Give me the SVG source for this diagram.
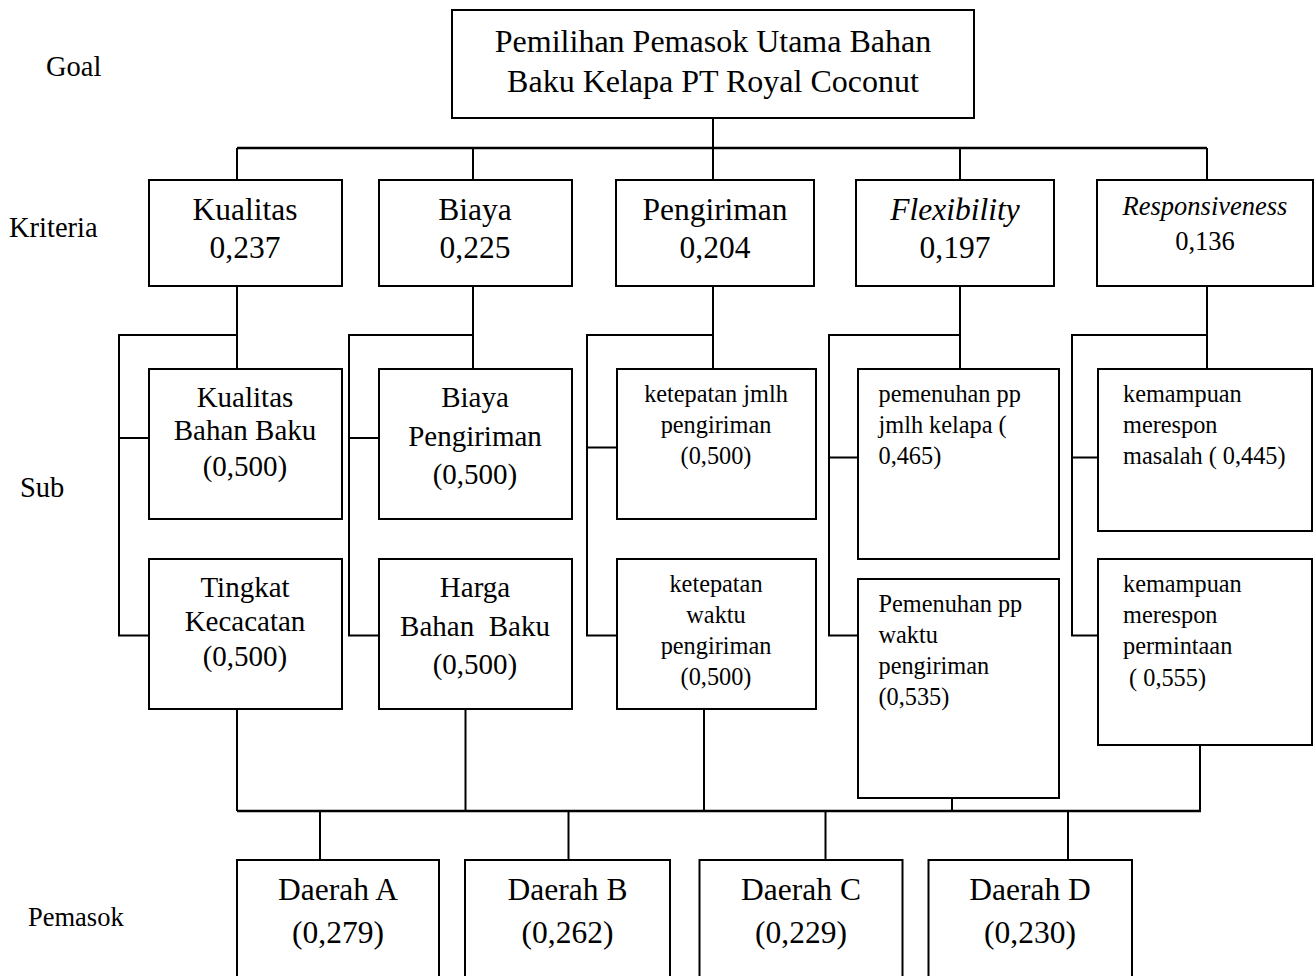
<svg xmlns="http://www.w3.org/2000/svg" width="1316" height="976" viewBox="0 0 1316 976">
<style>
text{font-family:"Liberation Serif","Times New Roman",serif;fill:#000}
.box{fill:#fff;stroke:#000;stroke-width:2}
.ln{fill:none;stroke:#000;stroke-width:2}
.bus{fill:none;stroke:#000;stroke-width:2.6}
.lbl{font-size:28.5px}
.g{font-size:32px;text-anchor:middle}
.k{font-size:31.5px;text-anchor:middle}
.ki{font-size:31.5px;text-anchor:middle;font-style:italic}
.r{font-size:26.5px;text-anchor:middle}
.s{font-size:29px;text-anchor:middle}
.sm{font-size:24.3px}
.smc{font-size:24.3px;text-anchor:middle}
.d{font-size:31.5px;text-anchor:middle}
</style>
<rect width="1316" height="976" fill="#fff"/>

<g id="labels">
<text class="lbl" x="46" y="76">Goal</text>
<text class="lbl" x="9" y="237">Kriteria</text>
<text class="lbl" x="20" y="497">Sub</text>
<text class="lbl" x="28" y="926" style="font-size:26.5px">Pemasok</text>
</g>

<g id="connectors">
<line class="ln" x1="713" y1="118" x2="713" y2="148"/>
<line class="bus" x1="237" y1="148" x2="1207" y2="148"/>
<line class="ln" x1="237" y1="148" x2="237" y2="180"/>
<line class="ln" x1="473" y1="148" x2="473" y2="180"/>
<line class="ln" x1="713" y1="148" x2="713" y2="180"/>
<line class="ln" x1="960" y1="148" x2="960" y2="180"/>
<line class="ln" x1="1207" y1="148" x2="1207" y2="180"/>

<line class="ln" x1="237" y1="286" x2="237" y2="369"/>
<polyline class="ln" points="237,335 119,335 119,635.5 149,635.5"/>
<line class="ln" x1="119" y1="438" x2="149" y2="438"/>

<line class="ln" x1="473" y1="286" x2="473" y2="369"/>
<polyline class="ln" points="473,335 349,335 349,635.5 379,635.5"/>
<line class="ln" x1="349" y1="438" x2="379" y2="438"/>

<line class="ln" x1="713" y1="286" x2="713" y2="369"/>
<polyline class="ln" points="713,335 587,335 587,635.5 617,635.5"/>
<line class="ln" x1="587" y1="447.5" x2="617" y2="447.5"/>

<line class="ln" x1="960" y1="286" x2="960" y2="369"/>
<polyline class="ln" points="960,335 829,335 829,635.5 858,635.5"/>
<line class="ln" x1="829" y1="457.5" x2="861" y2="457.5"/>

<line class="ln" x1="1207" y1="286" x2="1207" y2="369"/>
<polyline class="ln" points="1207,335 1072,335 1072,635.5 1098,635.5"/>
<line class="ln" x1="1072" y1="457.5" x2="1098" y2="457.5"/>

<line class="ln" x1="237" y1="709" x2="237" y2="811"/>
<line class="ln" x1="465.5" y1="709" x2="465.5" y2="811"/>
<line class="ln" x1="704" y1="709" x2="704" y2="811"/>
<line class="ln" x1="952" y1="798" x2="952" y2="811"/>
<line class="ln" x1="1200" y1="745" x2="1200" y2="811"/>
<line class="bus" x1="237" y1="811" x2="1201" y2="811"/>
<line class="ln" x1="320" y1="811" x2="320" y2="860"/>
<line class="ln" x1="568.5" y1="811" x2="568.5" y2="860"/>
<line class="ln" x1="825.5" y1="811" x2="825.5" y2="860"/>
<line class="ln" x1="1068" y1="811" x2="1068" y2="860"/>
</g>

<g id="goal">
<rect class="box" x="452" y="10" width="522" height="108"/>
<text class="g" x="713" y="52">Pemilihan Pemasok Utama Bahan</text>
<text class="g" x="713" y="92">Baku Kelapa PT Royal Coconut</text>
</g>

<g id="k-kualitas">
<rect class="box" x="149" y="180" width="193" height="106"/>
<text class="k" x="245" y="220">Kualitas</text>
<text class="k" x="245" y="258">0,237</text>
</g>
<g id="k-biaya">
<rect class="box" x="379" y="180" width="193" height="106"/>
<text class="k" x="475" y="220">Biaya</text>
<text class="k" x="475" y="258">0,225</text>
</g>
<g id="k-pengiriman">
<rect class="box" x="616" y="180" width="198" height="106"/>
<text class="k" x="715" y="220">Pengiriman</text>
<text class="k" x="715" y="258">0,204</text>
</g>
<g id="k-flexibility">
<rect class="box" x="856" y="180" width="198" height="106"/>
<text class="ki" x="955" y="220">Flexibility</text>
<text class="k" x="955" y="258">0,197</text>
</g>
<g id="k-responsiveness">
<rect class="box" x="1097" y="180" width="216" height="106"/>
<text class="r" x="1205" y="215" font-style="italic">Responsiveness</text>
<text class="r" x="1205" y="250">0,136</text>
</g>

<g id="s-kualitas-bahan">
<rect class="box" x="149" y="369" width="193" height="150"/>
<text class="s" x="245" y="407">Kualitas</text>
<text class="s" x="245" y="440">Bahan Baku</text>
<text class="s" x="245" y="476">(0,500)</text>
</g>
<g id="s-tingkat">
<rect class="box" x="149" y="559" width="193" height="150"/>
<text class="s" x="245" y="597">Tingkat</text>
<text class="s" x="245" y="631">Kecacatan</text>
<text class="s" x="245" y="666">(0,500)</text>
</g>
<g id="s-biaya-pengiriman">
<rect class="box" x="379" y="369" width="193" height="150"/>
<text class="s" x="475" y="407">Biaya</text>
<text class="s" x="475" y="446">Pengiriman</text>
<text class="s" x="475" y="484">(0,500)</text>
</g>
<g id="s-harga">
<rect class="box" x="379" y="559" width="193" height="150"/>
<text class="s" x="475" y="597">Harga</text>
<text class="s" x="475" y="636" xml:space="preserve">Bahan  Baku</text>
<text class="s" x="475" y="674">(0,500)</text>
</g>
<g id="s-ketepatan-jmlh">
<rect class="box" x="617" y="369" width="199" height="150"/>
<text class="smc" x="716" y="402">ketepatan jmlh</text>
<text class="smc" x="716" y="433">pengiriman</text>
<text class="smc" x="716" y="464">(0,500)</text>
</g>
<g id="s-ketepatan-waktu">
<rect class="box" x="617" y="559" width="199" height="150"/>
<text class="smc" x="716" y="592">ketepatan</text>
<text class="smc" x="716" y="623">waktu</text>
<text class="smc" x="716" y="654">pengiriman</text>
<text class="smc" x="716" y="685">(0,500)</text>
</g>
<g id="s-pemenuhan-jmlh">
<rect class="box" x="858" y="369" width="201" height="190"/>
<text class="sm" x="878.5" y="402">pemenuhan pp</text>
<text class="sm" x="878.5" y="433">jmlh kelapa (</text>
<text class="sm" x="878.5" y="464">0,465)</text>
</g>
<g id="s-pemenuhan-waktu">
<rect class="box" x="858" y="579" width="201" height="219"/>
<text class="sm" x="878.5" y="612">Pemenuhan pp</text>
<text class="sm" x="878.5" y="643">waktu</text>
<text class="sm" x="878.5" y="674">pengiriman</text>
<text class="sm" x="878.5" y="705">(0,535)</text>
</g>
<g id="s-merespon-masalah">
<rect class="box" x="1098" y="369" width="214" height="162"/>
<text class="sm" x="1123" y="402">kemampuan</text>
<text class="sm" x="1123" y="433">merespon</text>
<text class="sm" x="1123" y="464">masalah ( 0,445)</text>
</g>
<g id="s-merespon-permintaan">
<rect class="box" x="1098" y="559" width="214" height="186"/>
<text class="sm" x="1123" y="592">kemampuan</text>
<text class="sm" x="1123" y="623">merespon</text>
<text class="sm" x="1123" y="654">permintaan</text>
<text class="sm" x="1123" y="686" xml:space="preserve"> ( 0,555)</text>
</g>

<g id="p-daerah-a">
<rect class="box" x="237" y="860" width="202" height="140"/>
<text class="d" x="338" y="900">Daerah A</text>
<text class="d" x="338" y="943">(0,279)</text>
</g>
<g id="p-daerah-b">
<rect class="box" x="465" y="860" width="205" height="140"/>
<text class="d" x="567.5" y="900">Daerah B</text>
<text class="d" x="567.5" y="943">(0,262)</text>
</g>
<g id="p-daerah-c">
<rect class="box" x="699.5" y="860" width="203" height="140"/>
<text class="d" x="801" y="900">Daerah C</text>
<text class="d" x="801" y="943">(0,229)</text>
</g>
<g id="p-daerah-d">
<rect class="box" x="928.5" y="860" width="203.5" height="140"/>
<text class="d" x="1030" y="900">Daerah D</text>
<text class="d" x="1030" y="943">(0,230)</text>
</g>
</svg>
